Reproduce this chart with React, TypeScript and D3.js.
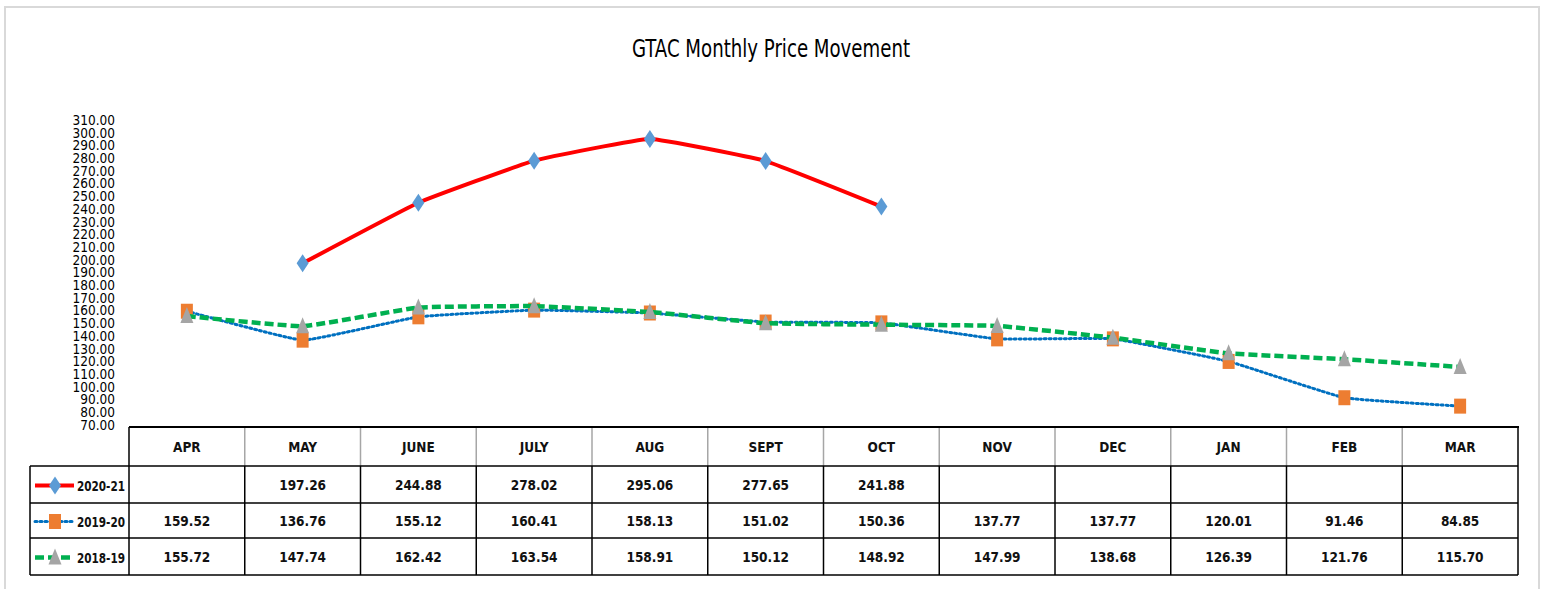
import { useEffect, useRef } from "react"
import * as d3 from "d3"

const months = ["APR", "MAY", "JUNE", "JULY", "AUG", "SEPT", "OCT", "NOV", "DEC", "JAN", "FEB", "MAR"]
const series2020 = [null, 197.26, 244.88, 278.02, 295.06, 277.65, 241.88, null, null, null, null, null]
const series2019 = [159.52, 136.76, 155.12, 160.41, 158.13, 151.02, 150.36, 137.77, 137.77, 120.01, 91.46, 84.85]
const series2018 = [155.72, 147.74, 162.42, 163.54, 158.91, 150.12, 148.92, 147.99, 138.68, 126.39, 121.76, 115.7]
const seriesNames = ["2020-21", "2019-20", "2018-19"]
const yTicks = d3.range(70, 311, 10)

const W = 1548
const H = 589
const FONT = "'DejaVu Sans', sans-serif"

export default function App() {
  const svgRef = useRef<SVGSVGElement>(null)

  useEffect(() => {
    document.body.style.margin = "0"
    const svg = d3.select(svgRef.current)
    svg.selectAll("*").remove()

    const left = 129
    const right = 1518
    const x = d3.scaleBand<string>().domain(months).range([left, right])
    const bw = x.bandwidth()
    const cx = (m: string) => (x(m) as number) + bw / 2
    const y = d3.scaleLinear().domain([70, 310]).range([425, 120])

    // outer frame
    svg.append("path")
      .attr("d", `M5,${H} L5,7 L1539,7 L1539,${H}`)
      .attr("fill", "none")
      .attr("stroke", "#d9d9d9")
      .attr("stroke-width", 2)

    // title
    svg.append("text")
      .attr("x", 632)
      .attr("y", 57)
      .attr("font-family", FONT)
      .attr("font-stretch", "condensed")
      .attr("font-size", 25)
      .attr("textLength", 278)
      .attr("lengthAdjust", "spacingAndGlyphs")
      .attr("fill", "#000")
      .text("GTAC Monthly Price Movement")

    // y tick labels
    svg.append("g")
      .selectAll("text")
      .data(yTicks)
      .enter()
      .append("text")
      .attr("x", 115)
      .attr("y", (d) => y(d))
      .attr("dy", "0.36em")
      .attr("text-anchor", "end")
      .attr("font-family", FONT)
      .attr("font-stretch", "condensed")
      .attr("font-size", 13.5)
      .attr("fill", "#000")
      .text((d) => d3.format(".2f")(d))

    const styles = [
      { data: series2020, color: "#ff0000", width: 4, dash: null as string | null, marker: "diamond", mcolor: "#5b9bd5" },
      { data: series2019, color: "#0070c0", width: 3, dash: "2,3", marker: "square", mcolor: "#ed7d31" },
      { data: series2018, color: "#00b050", width: 4.5, dash: "9,4", marker: "triangle", mcolor: "#a5a5a5" },
    ]

    const markerPath = (kind: string, px: number, py: number) => {
      if (kind === "diamond") return `M${px},${py - 9}L${px + 6},${py}L${px},${py + 9}L${px - 6},${py}Z`
      if (kind === "square") return `M${px - 6},${py - 7.5}h12v15h-12Z`
      return `M${px},${py - 9}L${px + 6.5},${py + 7}L${px - 6.5},${py + 7}Z`
    }

    const line = d3
      .line<number | null>()
      .defined((d) => d != null)
      .x((_, i) => cx(months[i]))
      .y((d) => y(d as number))
      .curve(d3.curveCardinal.tension(0.7))

    const plot = svg.append("g")
    styles.forEach((s) => {
      plot.append("path")
        .datum(s.data)
        .attr("fill", "none")
        .attr("stroke", s.color)
        .attr("stroke-width", s.width)
        .attr("stroke-dasharray", s.dash)
        .attr("stroke-linecap", s.dash === "2,3" ? "round" : "butt")
        .attr("d", line)
      plot.selectAll(null)
        .data(s.data.map((v, i) => ({ v, m: months[i] })).filter((d) => d.v != null))
        .enter()
        .append("path")
        .attr("d", (d) => markerPath(s.marker, cx(d.m), y(d.v as number)))
        .attr("fill", s.mcolor)
    })

    // data table
    const rowTops = [427, 466, 503, 538, 575]
    const table = svg.append("g")
    const textAttrs = (sel: any) =>
      sel.attr("font-family", FONT)
        .attr("font-stretch", "condensed")
        .attr("font-weight", "bold")
        .attr("font-size", 13.5)
        .attr("fill", "#111")
        .attr("text-anchor", "middle")

    // header
    months.forEach((m) => {
      textAttrs(table.append("text"))
        .attr("x", cx(m))
        .attr("y", 447)
        .attr("dy", "0.36em")
        .text(m)
    })
    months.slice(1).forEach((m) => {
      table.append("line")
        .attr("x1", x(m) as number).attr("x2", x(m) as number)
        .attr("y1", rowTops[0]).attr("y2", rowTops[1])
        .attr("stroke", "#a6a6a6").attr("stroke-width", 1.5)
    })
    table.append("line")
      .attr("x1", left).attr("x2", right + 1)
      .attr("y1", rowTops[0]).attr("y2", rowTops[0])
      .attr("stroke", "#000").attr("stroke-width", 2)
    table.append("line")
      .attr("x1", left).attr("x2", left)
      .attr("y1", rowTops[0]).attr("y2", rowTops[1])
      .attr("stroke", "#000").attr("stroke-width", 1.5)

    // body rows
    styles.forEach((s, r) => {
      const top = rowTops[r + 1]
      const bottom = rowTops[r + 2]
      const my = (top + bottom) / 2 + 1
      s.data.forEach((v, i) => {
        if (v == null) return
        textAttrs(table.append("text"))
          .attr("x", cx(months[i]))
          .attr("y", my)
          .attr("dy", "0.36em")
          .text(d3.format(".2f")(v))
      })
      // legend key
      table.append("line")
        .attr("x1", 35).attr("x2", 74)
        .attr("y1", my).attr("y2", my)
        .attr("stroke", s.color)
        .attr("stroke-width", s.width)
        .attr("stroke-dasharray", s.dash)
        .attr("stroke-linecap", s.dash === "2,3" ? "round" : "butt")
      table.append("path")
        .attr("d", markerPath(s.marker, 55, my))
        .attr("fill", s.mcolor)
      textAttrs(table.append("text"))
        .attr("x", 77)
        .attr("y", my)
        .attr("dy", "0.36em")
        .attr("text-anchor", "start")
        .attr("font-size", 14)
        .attr("textLength", 48)
        .attr("lengthAdjust", "spacingAndGlyphs")
        .text(seriesNames[r])
    })
    rowTops.slice(1).forEach((ty) => {
      table.append("line")
        .attr("x1", 30).attr("x2", right)
        .attr("y1", ty).attr("y2", ty)
        .attr("stroke", "#000").attr("stroke-width", 1.5)
    })
    const vx = [30, ...months.map((m) => x(m) as number), right]
    vx.forEach((vxi) => {
      table.append("line")
        .attr("x1", vxi).attr("x2", vxi)
        .attr("y1", vxi === right ? rowTops[0] : rowTops[1]).attr("y2", rowTops[4])
        .attr("stroke", "#000").attr("stroke-width", 1.5)
    })
  }, [])

  return <svg ref={svgRef} width={W} height={H} style={{ display: "block", background: "#fff" }} />
}
